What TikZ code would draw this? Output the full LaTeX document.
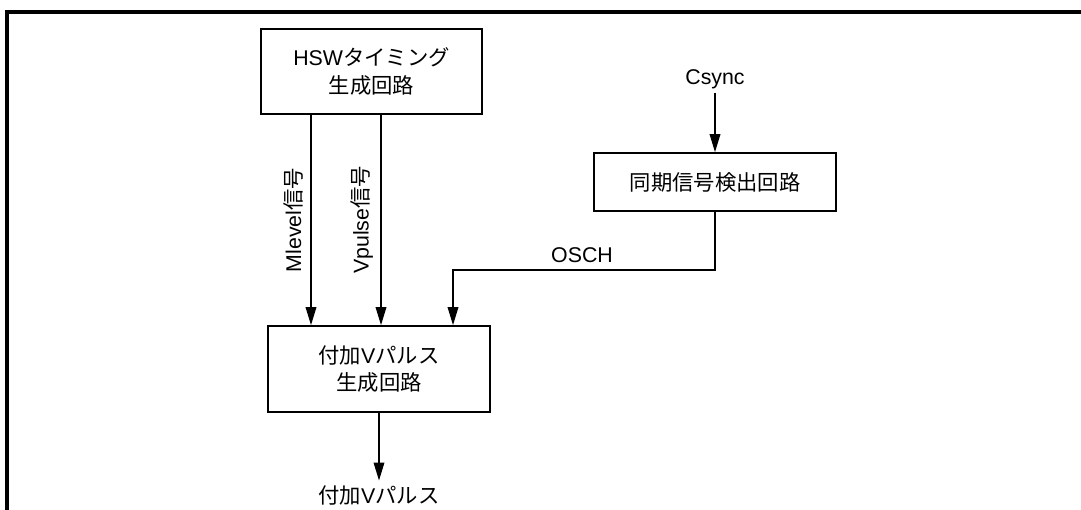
\documentclass[tikz,border=0pt]{standalone}
\usepackage{fontspec}
\setmainfont{Liberation Sans}
\newfontfamily\jp{Noto Sans CJK JP}
\usepackage{tikz}
\usetikzlibrary{arrows.meta, positioning, calc}

\begin{document}
\begin{tikzpicture}[x=0.75pt, y=-0.75pt,
  every node/.style={font=\fontsize{16}{20.5}\selectfont},
  blk/.style={draw, line width=1.3pt, align=center, inner sep=0pt},
  sig/.style={line width=1pt, -{Triangle[length=13.5pt, width=8pt]}}]
  \useasboundingbox (0,0) rectangle (1081,510);
  \draw[line width=2.5pt] (7,510) -- (7,12) -- (1081,12);

  \node[blk, minimum width=165.75pt, minimum height=63.75pt] (hsw) at (371.5,71.5)
    {HSW{\jp タイミング}\\{\jp 生成回路}};
  \node[blk, minimum width=181.5pt, minimum height=43.5pt] (sync) at (715,182)
    {\jp 同期信号検出回路};
  \node[blk, minimum width=166.5pt, minimum height=64.5pt] (addv) at (379,369)
    {{\jp 付加}V{\jp パルス}\\{\jp 生成回路}};

  \node (csync) at (715,79) {Csync};
  \node (osch) at (582,255) {OSCH};
  \node[rotate=90] (mlev) at (293,220) {Mlevel{\jp 信号}};
  \node[rotate=90] (vpul) at (362,220) {Vpulse{\jp 信号}};
  \node (out) at (379,495) {{\jp 付加}V{\jp パルス}};

  \coordinate (mx) at (311,0);
  \coordinate (vx) at (381,0);
  \coordinate (bend) at (453,270);

  \draw[sig] (hsw.south -| mx) -- (addv.north -| mx);
  \draw[sig] (hsw.south -| vx) -- (addv.north -| vx);
  \draw[sig] (csync) -- (sync);
  \draw[sig] (sync.south) |- (bend) -- (bend |- addv.north);
  \draw[sig] (addv) -- (out);
\end{tikzpicture}
\end{document}
